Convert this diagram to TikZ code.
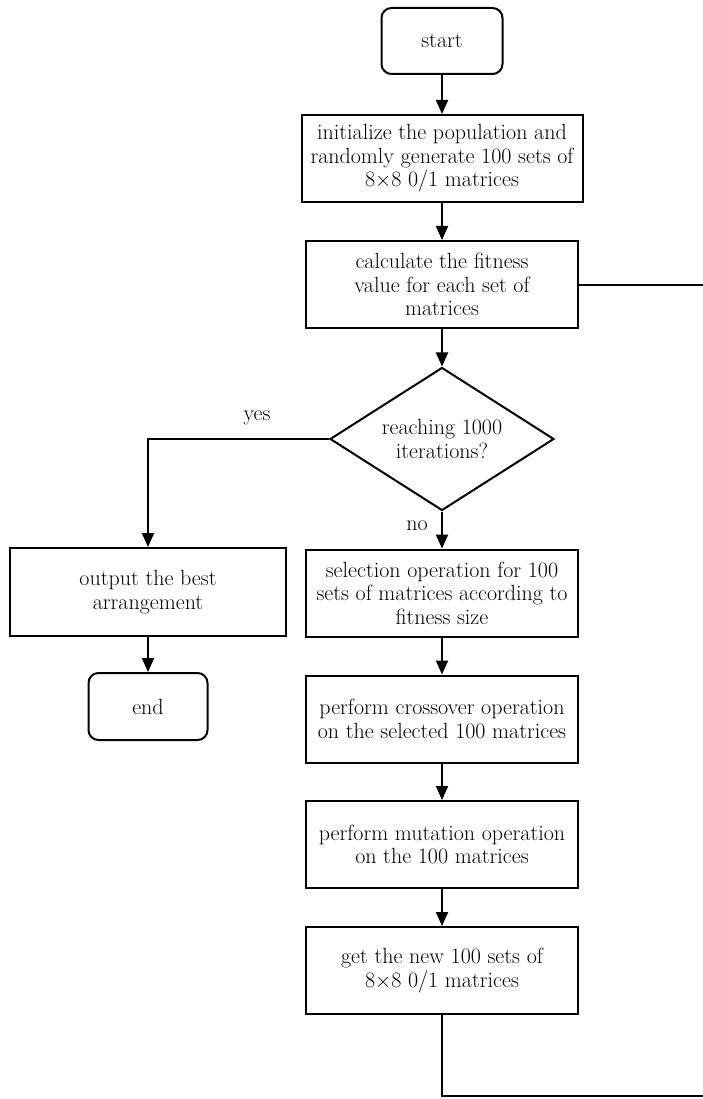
\documentclass[tikz,border=0pt]{standalone}
\usetikzlibrary{shapes.geometric,arrows.meta}
\begin{document}
\begin{tikzpicture}[x=1pt,y=-1pt,
  txt/.style={font=\fontsize{22}{23.5}\selectfont},
  box/.style={txt,draw,line width=2pt,minimum width=272pt,minimum height=87pt,align=center,inner sep=2pt},
  term/.style={box,rounded corners=10pt,minimum width=121pt,minimum height=66pt},
  dec/.style={txt,draw,diamond,line width=2pt,minimum width=224pt,minimum height=143pt,shape aspect=1.57,inner sep=0pt,align=center},
  arr/.style={line width=2pt,-{Triangle[length=14pt,width=12pt]}},
  conn/.style={line width=2pt}]
\path[use as bounding box] (0,0) rectangle (703,1099);
\clip (0,0) rectangle (703,1099);
\node[term] (start) at (442,41) {start};
\node[box,minimum width=281pt] (init) at (442,158.5) {initialize the population and\\randomly generate 100 sets of\\8$\times$8 0/1 matrices};
\node[box] (calc) at (442,284.5) {calculate the fitness\\value for each set of\\matrices};
\node[dec] (dec) at (442,439) {reaching 1000\\iterations?};
\node[box] (sel) at (442,593) {selection operation for 100\\sets of matrices according to\\fitness size};
\node[box] (cross) at (442,719) {perform crossover operation\\on the selected 100 matrices};
\node[box] (mut) at (442,844.5) {perform mutation operation\\on the 100 matrices};
\node[box] (get) at (442,970.5) {get the new 100 sets of\\8$\times$8 0/1 matrices};
\node[box,minimum width=276pt,minimum height=88pt] (out) at (148,592) {output the best\\arrangement};
\node[term,minimum width=119pt,minimum height=67pt] (end) at (148,706.5) {end};
\node[txt] (yes) at (257,418) {yes};
\node[txt] (no) at (417,526) {no};
\coordinate (lb) at (442,1096);
\coordinate (lr) at (720,1096);
\coordinate (lt) at (720,284.5);
\draw[arr] (start) -- (init);
\draw[arr] (init) -- (calc);
\draw[arr] (calc) -- (dec);
\draw[arr] (dec) -- (sel);
\draw[arr] (sel) -- (cross);
\draw[arr] (cross) -- (mut);
\draw[arr] (mut) -- (get);
\draw[arr] (dec.west) -| (out.north);
\draw[arr] (out) -- (end);
\draw[conn] (get.south) -- (lb) -- (lr) -- (lt) -- (calc.east);
\end{tikzpicture}
\end{document}
